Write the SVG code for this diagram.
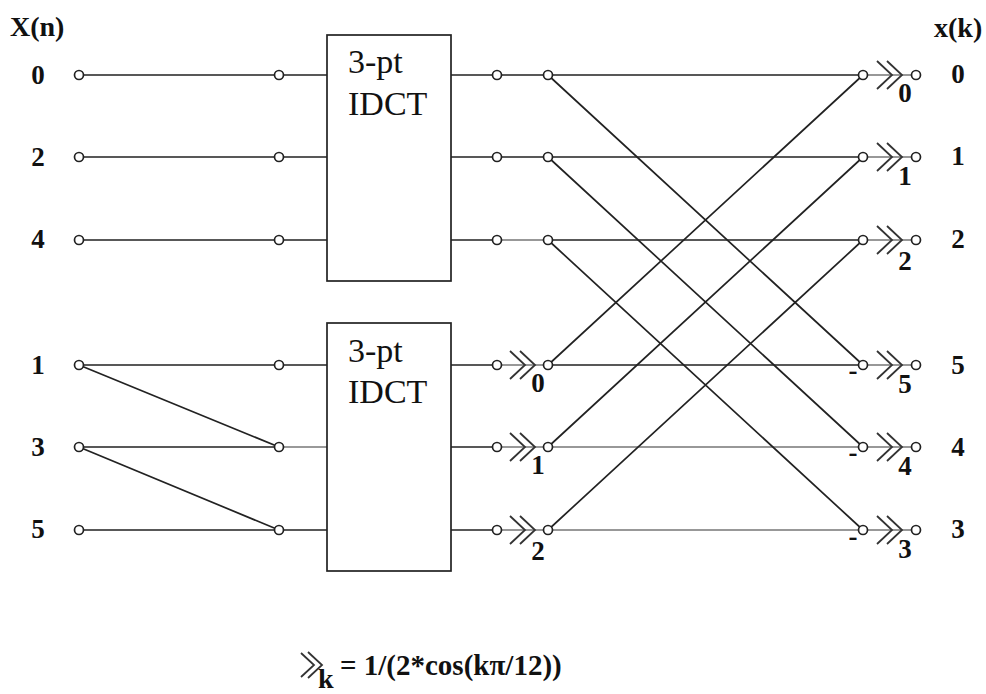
<svg xmlns="http://www.w3.org/2000/svg" xmlns:xlink="http://www.w3.org/1999/xlink" width="986" height="694" viewBox="0 0 986 694">
<defs>
<style>
.l{stroke:#222;stroke-width:1.7;fill:none}
.g{stroke:#777;stroke-width:1.7;fill:none}
.n{fill:#fff;stroke:#222;stroke-width:1.7}
.b{fill:#fff;stroke:#222;stroke-width:1.7}
.c{stroke:#333;stroke-width:1.8;fill:none}
text{font-family:"Liberation Serif","Times New Roman",serif;fill:#111}
.t{font-weight:bold;font-size:28px}
.s{font-weight:bold;font-size:27px;text-anchor:middle}
.i{font-size:34px}
</style>
<g id="chev"><path class="c" d="M-11,-14 L4,0 L-11,14 M-1,-14 L14,0 L-1,14"/></g>
</defs>
<rect width="986" height="694" fill="#fff"/>
<g id="connectors">
<path class="l" d="M79,75H279M79,157H279M79,240H279M79,365H279M79,447H279M79,530H279"/>
<path class="l" d="M79,365L279,447M79,447L279,530"/>
<path class="l" d="M279,75H327M279,157H327M279,240H327M279,365H327M279,530H327"/>
<path class="g" d="M279,447H327"/>
<path class="l" d="M451,75H548M451,157H548M451,240H497M451,365H497M451,447H497M451,530H497"/>
<path class="g" d="M497,240H548M497,365H548M497,447H548M497,530H548"/>
<path class="l" d="M548,75H863M548,157H863M548,240H863M548,365H863"/>
<path class="g" d="M548,447H863M548,530H863"/>
<path class="l" d="M548,75L863,365M548,157L863,447M548,240L863,530M548,365L863,75M548,447L863,157M548,530L863,240"/>
<path class="g" d="M863,75H916M863,157H916M863,240H916M863,365H916M863,447H916M863,530H916"/>
<use xlink:href="#chev" x="521" y="365"/><use xlink:href="#chev" x="521" y="447"/><use xlink:href="#chev" x="521" y="530"/>
<use xlink:href="#chev" x="888" y="75"/><use xlink:href="#chev" x="888" y="157"/><use xlink:href="#chev" x="888" y="240"/>
<use xlink:href="#chev" x="888" y="365"/><use xlink:href="#chev" x="888" y="447"/><use xlink:href="#chev" x="888" y="530"/>
<path class="c" d="M301,653 L314,665 L301,677 M308,652 L322,665 L308,678"/>
</g>
<g id="idct1"><rect class="b" x="327" y="35" width="124" height="246"/><text class="i" x="348" y="73">3-pt</text><text class="i" x="348" y="115">IDCT</text></g>
<g id="idct2"><rect class="b" x="327" y="323" width="124" height="248"/><text class="i" x="348" y="362">3-pt</text><text class="i" x="348" y="403">IDCT</text></g>
<g id="nodes">
<circle class="n" cx="79" cy="75" r="4.5"/><circle class="n" cx="79" cy="157" r="4.5"/><circle class="n" cx="79" cy="240" r="4.5"/><circle class="n" cx="79" cy="365" r="4.5"/><circle class="n" cx="79" cy="447" r="4.5"/><circle class="n" cx="79" cy="530" r="4.5"/>
<circle class="n" cx="279" cy="75" r="4.5"/><circle class="n" cx="279" cy="157" r="4.5"/><circle class="n" cx="279" cy="240" r="4.5"/><circle class="n" cx="279" cy="365" r="4.5"/><circle class="n" cx="279" cy="447" r="4.5"/><circle class="n" cx="279" cy="530" r="4.5"/>
<circle class="n" cx="497" cy="75" r="4.5"/><circle class="n" cx="497" cy="157" r="4.5"/><circle class="n" cx="497" cy="240" r="4.5"/><circle class="n" cx="497" cy="365" r="4.5"/><circle class="n" cx="497" cy="447" r="4.5"/><circle class="n" cx="497" cy="530" r="4.5"/>
<circle class="n" cx="548" cy="75" r="4.5"/><circle class="n" cx="548" cy="157" r="4.5"/><circle class="n" cx="548" cy="240" r="4.5"/><circle class="n" cx="548" cy="365" r="4.5"/><circle class="n" cx="548" cy="447" r="4.5"/><circle class="n" cx="548" cy="530" r="4.5"/>
<circle class="n" cx="863" cy="75" r="4.5"/><circle class="n" cx="863" cy="157" r="4.5"/><circle class="n" cx="863" cy="240" r="4.5"/><circle class="n" cx="863" cy="365" r="4.5"/><circle class="n" cx="863" cy="447" r="4.5"/><circle class="n" cx="863" cy="530" r="4.5"/>
<circle class="n" cx="916" cy="75" r="4.5"/><circle class="n" cx="916" cy="157" r="4.5"/><circle class="n" cx="916" cy="240" r="4.5"/><circle class="n" cx="916" cy="365" r="4.5"/><circle class="n" cx="916" cy="447" r="4.5"/><circle class="n" cx="916" cy="530" r="4.5"/>
</g>
<g id="labels">
<text class="t" x="10" y="36">X(n)</text><text class="t" x="934" y="37">x(k)</text>
<text class="s" x="38" y="84">0</text><text class="s" x="38" y="166">2</text><text class="s" x="38" y="248">4</text><text class="s" x="38" y="374">1</text><text class="s" x="38" y="456">3</text><text class="s" x="38" y="538">5</text>
<text class="s" x="958" y="83">0</text><text class="s" x="958" y="165">1</text><text class="s" x="958" y="248">2</text><text class="s" x="958" y="374">5</text><text class="s" x="958" y="456">4</text><text class="s" x="958" y="538">3</text>
<text class="s" x="538" y="392">0</text><text class="s" x="538" y="474">1</text><text class="s" x="538" y="560">2</text>
<text class="s" x="905" y="102">0</text><text class="s" x="905" y="185">1</text><text class="s" x="905" y="270">2</text><text class="s" x="905" y="393">5</text><text class="s" x="905" y="475">4</text><text class="s" x="905" y="558">3</text>
<text class="s" x="853" y="379">-</text><text class="s" x="853" y="461">-</text><text class="s" x="853" y="545">-</text>
<text class="t" x="340" y="675" style="font-size:29px">= 1/(2*cos(kπ/12))</text>
<text class="t" x="318" y="688">k</text>
</g>
</svg>
